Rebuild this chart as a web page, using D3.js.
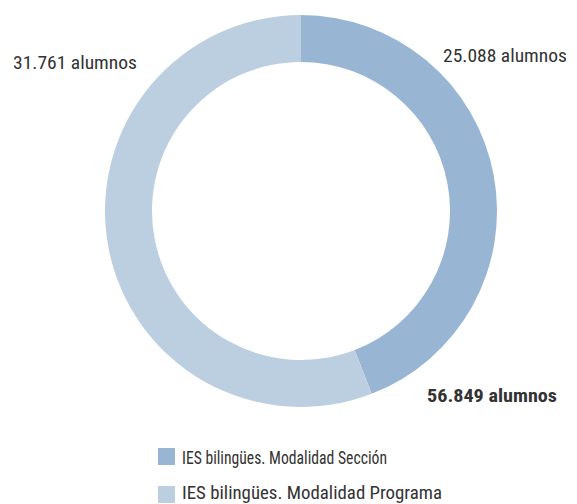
<!DOCTYPE html>
<html><head><meta charset="utf-8">
<script src="https://cdn.jsdelivr.net/npm/d3@7"></script>
<style>
body{margin:0;background:#fff;}
svg text{font-family:"Liberation Sans Narrow","Roboto Condensed","Arial Narrow",sans-serif;font-size:18px;fill:#333;}
</style></head>
<body><svg id="c" width="577" height="504"></svg>
<script>
const categories = ["IES bilingües. Modalidad Sección", "IES bilingües. Modalidad Programa"];
const values = [25088, 31761];
const valueLabels = ["25.088 alumnos", "31.761 alumnos"];
const totalLabel = "56.849 alumnos";
const colors = ["#98b5d3", "#bccfe1"];

const svg = d3.select("#c");
const cx = 301, cy = 211, rOuter = 196, rInner = 149;
const pie = d3.pie().sort(null).value(d => d);
const arc = d3.arc().innerRadius(rInner).outerRadius(rOuter);
const g = svg.append("g").attr("transform", `translate(${cx},${cy})`);
g.selectAll("path").data(pie(values)).enter().append("path")
  .attr("d", arc).attr("fill", (d,i) => colors[i]);

svg.append("text").attr("x", 443).attr("y", 62)
  .attr("textLength",124).attr("lengthAdjust","spacingAndGlyphs").text(valueLabels[0]);
svg.append("text").attr("x", 13).attr("y", 69)
  .attr("textLength",124).attr("lengthAdjust","spacingAndGlyphs").text(valueLabels[1]);
svg.append("text").attr("x", 427).attr("y", 402).style("font-weight","bold")
  .attr("textLength",130).attr("lengthAdjust","spacingAndGlyphs").text(totalLabel);

const legendWidths = [205, 260];
const leg = svg.append("g");
categories.forEach((c,i) => {
  leg.append("rect").attr("x",158).attr("y",448 + i*38).attr("width",17).attr("height",17).attr("fill",colors[i]);
  leg.append("text").attr("x",182).attr("y",464 + i*35).style("font-size","19px")
    .attr("textLength",legendWidths[i]).attr("lengthAdjust","spacingAndGlyphs").text(c);
});
</script></body></html>
